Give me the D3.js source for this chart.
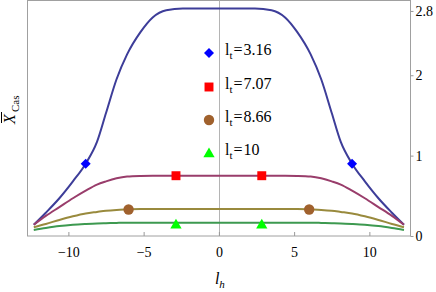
<!DOCTYPE html>
<html>
<head>
<meta charset="utf-8">
<script src="https://cdn.jsdelivr.net/npm/d3@7"></script>
<style>
body { margin: 0; background: #fff; }
svg { display: block; }
svg text { font-family: "Liberation Serif", "DejaVu Serif", serif; }
.axis text { font-size: 14px; fill: #000; }
.axis line { stroke: #999; }
.axis path { display: none; }
</style>
</head>
<body>
<svg id="chart" width="436" height="292"></svg>
<script>
// values
var lh = [-12.3, -11.5, -10.6, -9.7, -8.85, -8.1, -7.5, -6.8, -6.1, -5.2, -4.4, -3.5, -2.4, 0,
          2.4, 3.5, 4.4, 5.2, 6.1, 6.8, 7.5, 8.1, 8.85, 9.7, 10.6, 11.5, 12.3];
var lt316 = [0.14, 0.29, 0.47, 0.68, 0.9, 1.17, 1.53, 1.95, 2.26, 2.54, 2.72, 2.81, 2.83, 2.83,
             2.83, 2.81, 2.72, 2.54, 2.26, 1.95, 1.53, 1.17, 0.9, 0.68, 0.47, 0.29, 0.14];
var lt707 = [0.14, 0.25, 0.36, 0.47, 0.565, 0.64, 0.68, 0.718, 0.74, 0.748, 0.75, 0.75, 0.75, 0.75,
             0.75, 0.75, 0.75, 0.748, 0.74, 0.718, 0.68, 0.64, 0.565, 0.47, 0.36, 0.25, 0.14];
var lt866 = [0.11, 0.15, 0.2, 0.245, 0.28, 0.3, 0.315, 0.325, 0.33, 0.335, 0.335, 0.335, 0.335, 0.335,
             0.335, 0.335, 0.335, 0.335, 0.33, 0.325, 0.315, 0.3, 0.28, 0.245, 0.2, 0.15, 0.11];
var lt10 = [0.075, 0.1, 0.124, 0.14, 0.15, 0.157, 0.16, 0.163, 0.165, 0.165, 0.165, 0.165, 0.165, 0.165,
            0.165, 0.165, 0.165, 0.165, 0.165, 0.163, 0.16, 0.157, 0.15, 0.14, 0.124, 0.1, 0.075];

var legendNames = ["3.16", "7.07", "8.66", "10"];
var markX = [[-8.85, 8.85], [-2.85, 2.85], [-6.0, 6.0], [-2.85, 2.85]];
var markY = [[0.9, 0.9], [0.75, 0.75], [0.33, 0.33], [0.165, 0.165]];

var xTicks = [-10, -5, 0, 5, 10];
var yTicks = [0, 1, 2, 2.8];

var lineColors = ["#3d3d99", "#993d6b", "#998a3d", "#3d9950"];
var markColors = ["#0000ff", "#ff0000", "#a0612d", "#00ff00"];
var markShapes = [d3.symbolSquare, d3.symbolSquare, d3.symbolCircle, d3.symbolTriangle];
var markSizes = [50, 80, 85, 55];
var markRot = [45, 0, 0, 0];

var svg = d3.select("#chart");
var pLeft = 27, pRight = 410, pTop = 0.5, pBottom = 236;

var x = d3.scaleLinear().domain([-12.75, 12.7]).range([pLeft, pRight]);
var y = d3.scaleLinear().domain([0, 2.93]).range([pBottom, pTop]);

var series = [lt316, lt707, lt866, lt10];

// frame
svg.append("rect")
    .attr("x", pLeft + 0.5).attr("y", pTop)
    .attr("width", pRight - pLeft).attr("height", pBottom - pTop)
    .attr("fill", "none").attr("stroke", "#a0a0a0").attr("stroke-width", 1);

// x = 0 line
svg.append("line")
    .attr("x1", Math.round(x(0)) + 0.5).attr("x2", Math.round(x(0)) + 0.5)
    .attr("y1", pTop).attr("y2", pBottom)
    .attr("stroke", "#b4b4b4").attr("stroke-width", 1);

// axes
svg.append("g").attr("class", "axis")
    .attr("transform", "translate(0," + pBottom + ")")
    .call(d3.axisBottom(x).tickValues(xTicks).tickSize(-4).tickPadding(11).tickFormat(d3.format("")));

svg.append("g").attr("class", "axis")
    .attr("transform", "translate(" + (pRight + 0.5) + ",0)")
    .call(d3.axisRight(y).tickValues(yTicks).tickSize(3).tickPadding(2).tickFormat(d3.format("")));

// curves
var line = d3.line()
    .x(function(d, i){ return x(lh[i]); })
    .y(function(d){ return y(d); })
    .curve(d3.curveMonotoneX);

svg.selectAll(".curve")
    .data(series)
    .enter()
    .append("path")
    .attr("class", "curve")
    .attr("d", line)
    .attr("fill", "none")
    .attr("stroke", function(d, i){ return lineColors[i]; })
    .attr("stroke-width", 2);

function markTransform(px, py, i){
    var t = "translate(" + px + "," + (py + (i == 3 ? 2.5 : 0)) + ")";
    if (markRot[i]) t += " rotate(" + markRot[i] + ")";
    return t;
}

// markers on curves
for (var s = 0; s < 4; s++) {
    for (var k = 0; k < markX[s].length; k++) {
        svg.append("path")
            .attr("d", d3.symbol().type(markShapes[s]).size(markSizes[s]))
            .attr("transform", markTransform(x(markX[s][k]), y(markY[s][k]), s))
            .attr("fill", markColors[s]);
    }
}

// legend
var legY = [53, 87, 120, 153];
var legend = svg.selectAll(".leg")
    .data(legendNames)
    .enter()
    .append("g")
    .attr("class", "leg")
    .attr("transform", function(d, i){ return "translate(209," + legY[i] + ")"; });

legend.append("path")
    .attr("d", function(d, i){ return d3.symbol().type(markShapes[i]).size(markSizes[i])(); })
    .attr("transform", function(d, i){ return markTransform(0, i == 3 ? -1.5 : 0, i); })
    .attr("fill", function(d, i){ return markColors[i]; });

var lt = legend.append("text")
    .attr("x", 16).attr("y", 2)
    .attr("font-size", 16)
    .attr("fill", "#000");
lt.append("tspan").text("l");
lt.append("tspan").attr("font-size", 11).attr("dy", 4).text("t");
lt.append("tspan").attr("dy", -4).attr("dx", 1).text("=");
lt.append("tspan").attr("dx", 1).text(function(d){ return d; });

// axis titles
var xt = svg.append("text")
    .attr("x", x(0) - 4).attr("y", 284)
    .attr("font-size", 16).attr("font-style", "italic");
xt.append("tspan").text("l");
xt.append("tspan").attr("font-size", 11).attr("dy", 4).text("h");

var yt = svg.append("g").attr("transform", "translate(15,112) rotate(-90)");
yt.append("text")
    .attr("x", -12).attr("y", 0)
    .attr("font-size", 16).attr("font-style", "italic")
    .text("X");
yt.append("line")
    .attr("x1", -11).attr("x2", 0).attr("y1", -13.5).attr("y2", -13.5)
    .attr("stroke", "#000").attr("stroke-width", 1);
yt.append("text")
    .attr("x", 0).attr("y", 4)
    .attr("font-size", 11)
    .text("Cas");
</script>
</body>
</html>
